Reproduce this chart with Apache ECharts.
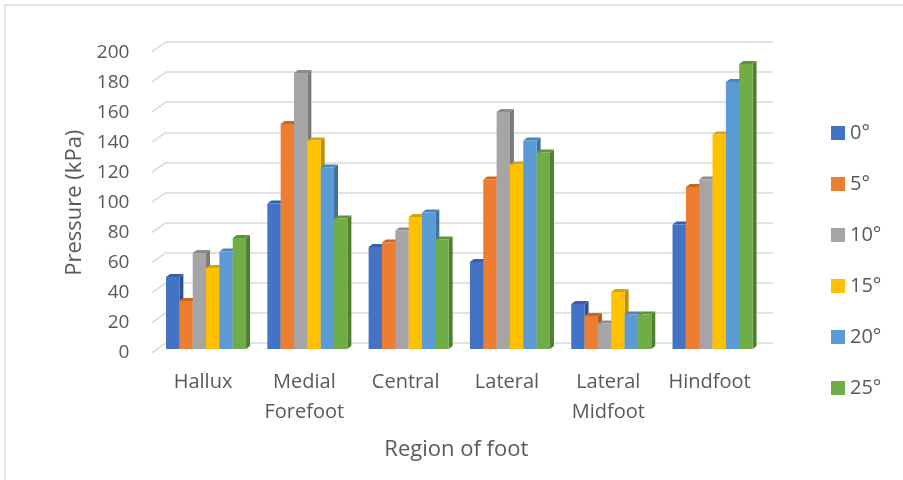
<!DOCTYPE html>
<html>
<head>
<meta charset="utf-8">
<script src="https://cdn.jsdelivr.net/npm/echarts@6/dist/echarts.min.js"></script>
<style>
  html, body { margin: 0; padding: 0; background: #ffffff; }
  #chart { width: 903px; height: 480px; }
</style>
</head>
<body>
<div id="chart"></div>
<script>
// Foot regions (x categories)
const regions = ['Hallux', 'Medial\nForefoot', 'Central', 'Lateral', 'Lateral\nMidfoot', 'Hindfoot'];

// Pressure (kPa) per region for each angle
const angleNames = ['0°', '5°', '10°', '15°', '20°', '25°'];
const p0 = [48, 97, 68, 58, 30, 83];
const p5 = [32, 150, 71, 113, 22, 108];
const p10 = [64, 184, 79, 158, 17, 113];
const p15 = [54, 139, 88, 123, 38, 143];
const p20 = [65, 121, 91, 139, 23, 178];
const p25 = [74, 87, 73, 131, 23, 190];
const pressures = [p0, p5, p10, p15, p20, p25];

// Value axis ticks
const yTicks = [0, 20, 40, 60, 80, 100, 120, 140, 160, 180, 200];

// Face colours: front, side, top
const frontColors = ['#4472C4', '#ED7D31', '#A5A5A5', '#FFC000', '#5B9BD5', '#70AD47'];
const sideColors  = ['#2F528F', '#AE5A21', '#7B7B7B', '#BF9000', '#41719C', '#507E32'];
const topColors   = ['#3560AE', '#C9661F', '#8C8C8C', '#D9A300', '#4A84BA', '#5E9438'];

const textColor = '#595959';
const fontFamily = '"Open Sans", "Noto Sans", sans-serif';

// Depth offsets of the pseudo-3D look
const DEPTH_DX = 14, DEPTH_DY = -9.7;   // front plane -> back wall
const BAR_DX = 3, BAR_DY = -3.7;        // front plane -> bar front faces
const SIDE_DX = 4, SIDE_DY = -3;        // bar side / top thickness

const chart = echarts.init(document.getElementById('chart'), null, { renderer: 'canvas' });

function barRenderer(sIdx) {
  return function (params, api) {
    const cat = api.value(0);
    const val = api.value(1);
    const base = api.coord([cat, 0]);
    const top = api.coord([cat, val]);
    const band = api.size([1, 0])[0];
    const bw = band * 0.79 / 6;
    const x0 = base[0] - 3 * bw + sIdx * bw + BAR_DX;
    const x1 = x0 + bw;
    const yb = base[1] + BAR_DY;
    const yt = top[1] + BAR_DY;
    return {
      type: 'group',
      children: [
        {
          type: 'polygon',
          shape: { points: [[x1, yt], [x1 + SIDE_DX, yt + SIDE_DY], [x1 + SIDE_DX, yb + SIDE_DY], [x1, yb]] },
          style: { fill: sideColors[sIdx] }
        },
        {
          type: 'polygon',
          shape: { points: [[x0, yt], [x0 + SIDE_DX, yt + SIDE_DY], [x1 + SIDE_DX, yt + SIDE_DY], [x1, yt]] },
          style: { fill: topColors[sIdx] }
        },
        {
          type: 'rect',
          shape: { x: x0, y: yt, width: bw, height: yb - yt },
          style: { fill: frontColors[sIdx] }
        }
      ]
    };
  };
}

const barSeries = angleNames.map(function (name, i) {
  return {
    name: name,
    type: 'custom',
    xAxisIndex: 0,
    yAxisIndex: 0,
    itemStyle: { color: frontColors[i] },
    renderItem: barRenderer(i),
    data: pressures[i].map(function (v, k) { return [k, v]; }),
    z: 3
  };
});

// Left-wall edges joining the front axis to the back-wall gridlines
const wallEdges = {
  type: 'custom',
  xAxisIndex: 1,
  yAxisIndex: 1,
  silent: true,
  renderItem: function (params, api) {
    const p = api.coord([0, api.value(0)]);
    return {
      type: 'line',
      shape: { x1: p[0] - DEPTH_DX, y1: p[1] - DEPTH_DY, x2: p[0], y2: p[1] },
      style: { stroke: '#D9D9D9', lineWidth: 1.5 }
    };
  },
  data: yTicks.map(function (t) { return [t]; }),
  z: 1
};

const option = {
  backgroundColor: '#ffffff',
  animation: false,
  textStyle: { fontFamily: fontFamily, color: textColor },
  graphic: [
    {
      type: 'rect',
      shape: { x: 5, y: 5, width: 940, height: 520 },
      style: { fill: 'none', stroke: '#D9D9D9', lineWidth: 1.5 },
      silent: true
    }
  ],
  legend: {
    orient: 'vertical',
    left: 826,
    top: 118,
    itemWidth: 14,
    itemHeight: 14,
    itemGap: 31,
    icon: 'rect',
    textStyle: { fontSize: 20, color: textColor, fontFamily: fontFamily },
    data: angleNames
  },
  grid: [
    { left: 152.4, top: 52.7, width: 607.8, height: 300 },
    { left: 166, top: 42, width: 607, height: 301 }
  ],
  xAxis: [
    {
      type: 'category',
      gridIndex: 0,
      data: regions,
      axisLine: { show: false },
      axisTick: { show: false },
      axisLabel: {
        fontSize: 20,
        lineHeight: 30,
        color: textColor,
        fontFamily: fontFamily,
        margin: 15,
        interval: 0
      },
      name: 'Region of foot',
      nameLocation: 'middle',
      nameGap: 86,
      nameTextStyle: { fontSize: 22, color: textColor, fontFamily: fontFamily }
    },
    {
      type: 'value',
      gridIndex: 1,
      min: 0,
      max: 1,
      show: false
    }
  ],
  yAxis: [
    {
      type: 'value',
      gridIndex: 0,
      min: 0,
      max: 200,
      interval: 20,
      axisLine: { show: false },
      axisTick: { show: false },
      splitLine: { show: false },
      axisLabel: { fontSize: 19, color: textColor, fontFamily: fontFamily, margin: 23 },
      name: 'Pressure (kPa)',
      nameLocation: 'middle',
      nameGap: 67,
      nameRotate: 90,
      nameTextStyle: { fontSize: 22, color: textColor, fontFamily: fontFamily }
    },
    {
      type: 'value',
      gridIndex: 1,
      min: 0,
      max: 200,
      interval: 20,
      axisLine: { show: false },
      axisTick: { show: false },
      axisLabel: { show: false },
      splitLine: { show: true, lineStyle: { color: '#D9D9D9', width: 1.5 } }
    }
  ],
  series: [wallEdges].concat(barSeries)
};

chart.setOption(option);
</script>
</body>
</html>
